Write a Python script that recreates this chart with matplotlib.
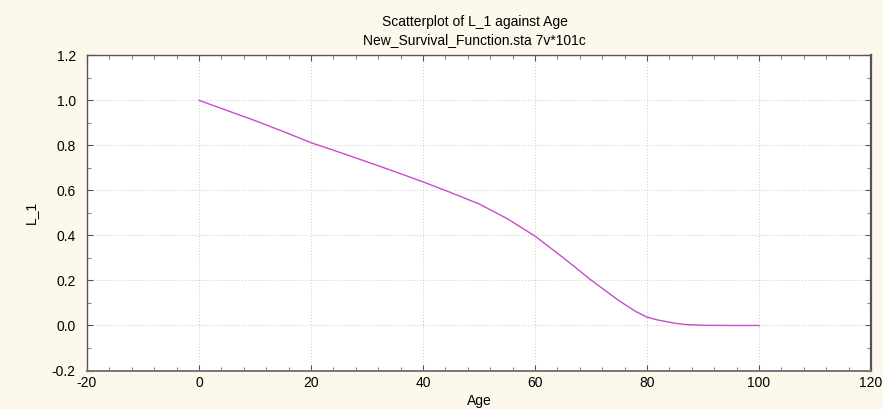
"""
Recreate the STATISTICA-style scatterplot of L_1 against Age
(New_Survival_Function.sta). Single magenta survival curve, dotted grid.
"""

import matplotlib
matplotlib.use("Agg")
import matplotlib.pyplot as plt
from matplotlib.ticker import MultipleLocator

plt.rcParams["font.family"] = ["Liberation Sans", "DejaVu Sans"]
plt.rcParams["axes.unicode_minus"] = False

# Values (every 5 years, a few extra at the knee).
AGE = [0, 5, 10, 15, 20, 25, 30, 35, 40, 45, 50, 55, 60, 65, 70,
       75, 78, 80, 82, 85, 87, 90, 95, 100]
L_1 = [1.000, 0.955, 0.910, 0.862, 0.812, 0.770, 0.727, 0.683, 0.638,
       0.590, 0.540, 0.475, 0.397, 0.302, 0.202, 0.110, 0.062, 0.037,
       0.024, 0.010, 0.004, 0.001, 0.000, 0.000]

LINE_COLOR = "#c84dc8"
PAGE_COLOR = "#fdf8ec"
FRAME_COLOR = "#555555"

fig = plt.figure(figsize=(8.83, 4.09), dpi=100, facecolor=PAGE_COLOR)
ax = fig.add_axes([0.0985, 0.0941, 0.8879, 0.7707])
ax.set_facecolor("white")

ax.plot(AGE, L_1, color=LINE_COLOR, linewidth=1.0)

ax.set_xlim(-20, 120)
ax.set_ylim(-0.2, 1.2)
ax.xaxis.set_major_locator(MultipleLocator(20))
ax.xaxis.set_minor_locator(MultipleLocator(4))
ax.yaxis.set_major_locator(MultipleLocator(0.2))
ax.yaxis.set_minor_locator(MultipleLocator(0.1))
ax.yaxis.set_major_formatter(plt.FuncFormatter(lambda v, _: f"{v:.1f}"))

ax.tick_params(which="both", direction="in", top=True, right=True,
               color=FRAME_COLOR, labelsize=10)
ax.tick_params(which="major", length=4, width=0.8)
ax.tick_params(which="minor", length=3, width=0.8, color="#888888")
ax.tick_params(axis="y", pad=8)
ax.tick_params(axis="x", pad=4)

ax.grid(True, which="major", linestyle=(0, (1, 2)), linewidth=0.7,
        color="#c8c8c8")
ax.set_axisbelow(True)
for spine in ax.spines.values():
    spine.set_color(FRAME_COLOR)
    spine.set_linewidth(1.0)
ax.spines["right"].set_linewidth(1.6)
ax.spines["bottom"].set_linewidth(1.4)
ax.spines["bottom"].set_color("#777777")

ax.set_xlabel("Age", fontsize=10, labelpad=3)
ax.set_ylabel("L_1", fontsize=10)
ax.yaxis.set_label_coords(-0.0625, 0.5)

fig.text(0.5375, 0.945, "Scatterplot of L_1 against Age",
         ha="center", va="center", fontsize=10)
fig.text(0.5375, 0.902, "New_Survival_Function.sta 7v*101c",
         ha="center", va="center", fontsize=10)

fig.savefig("out.png", dpi=100, facecolor=PAGE_COLOR)
